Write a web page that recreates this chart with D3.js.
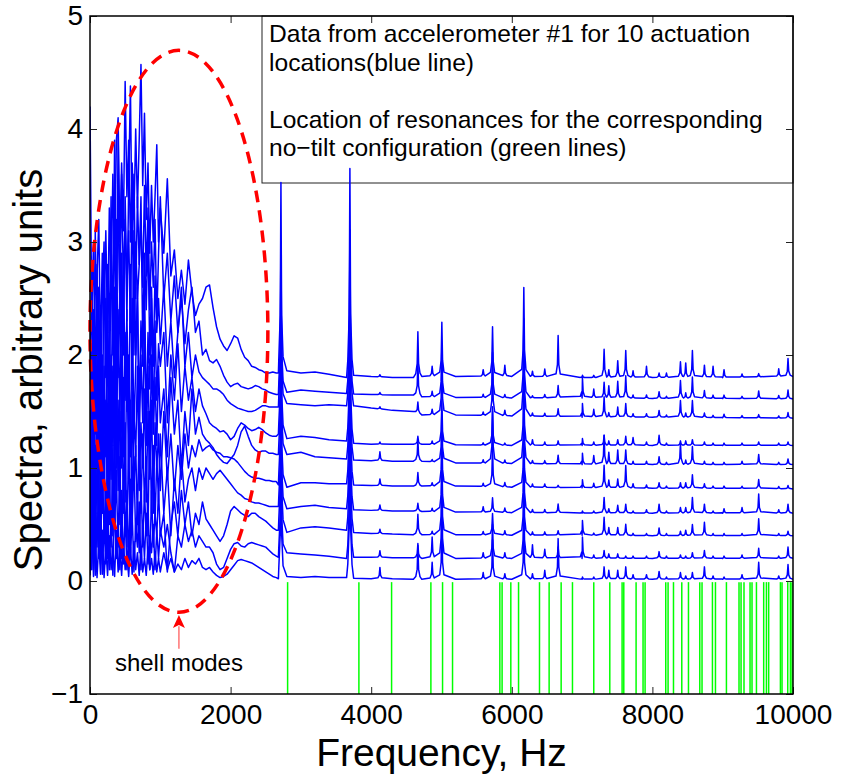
<!DOCTYPE html>
<html>
<head>
<meta charset="utf-8">
<script src="https://cdn.jsdelivr.net/npm/d3@7"></script>
<style>
	body { margin: 0; background: #fff; }
	text { font-family: "Liberation Sans", Arial, Helvetica, sans-serif; }
</style>
</head>
<body>
<svg id="chart" width="841" height="774"></svg>
<script>
(function(d3) {
	'use strict';

	/** axes */
	var xTicks = [0, 2000, 4000, 6000, 8000, 10000];
	var yTicks = [-1, 0, 1, 2, 3, 4, 5];

	/** low frequency part of the 10 spectra: 0..975 Hz every 25 Hz, then 1000..2650 Hz every 50 Hz */
	var lowFreqs = d3.range(0, 1000, 25).concat(d3.range(1000, 2700, 50));
	var lowSpectra = [
		[4.2, 2.3, 3.0, 1.8, 2.7, 3.2, 2.0, 2.9, 2.4, 3.1, 2.2, 3.3, 2.6, 3.6, 2.8, 3.9, 4.1, 3.0, 3.7, 3.1, 4.42, 3.4, 3.9, 3.0, 3.7, 3.2, 4.0, 3.3, 3.9, 4.57, 3.5, 4.14, 3.2, 3.7, 2.9, 3.5, 3.0, 3.4, 3.86, 3.0,
			3.3, 2.9, 3.56, 2.7, 2.93, 2.5, 2.75, 2.45, 2.84, 2.55, 2.35, 2.45, 2.5, 2.6, 2.62, 2.42, 2.25, 2.14, 2.08, 2.04, 2.1, 2.17, 2.15, 2.05, 1.98, 1.95, 1.9, 1.89, 1.87, 1.86, 1.84, 1.84, 1.85, 1.84],
		[1.2, 2.8, 1.5, 3.1, 2.0, 2.6, 1.4, 2.5, 3.0, 1.9, 2.8, 2.2, 3.4, 2.0, 3.9, 2.7, 3.3, 2.4, 3.6, 2.6, 3.2, 2.3, 3.5, 4.38, 2.9, 3.6, 2.5, 3.4, 2.8, 3.2, 2.6, 3.5, 2.7, 3.3, 2.4, 3.0, 2.6, 3.2, 2.3, 2.9,
			3.4, 2.5, 2.9, 2.3, 2.7, 2.2, 2.5, 2.1, 2.4, 2.6, 2.2, 2.3, 2.0, 2.05, 1.95, 1.93, 1.96, 1.9, 1.82, 1.76, 1.72, 1.74, 1.75, 1.72, 1.71, 1.7, 1.71, 1.73, 1.72, 1.7, 1.69, 1.67, 1.66, 1.65],
		[2.3, 0.9, 2.4, 1.3, 2.8, 1.6, 2.2, 1.1, 2.9, 1.8, 2.5, 1.4, 3.0, 2.1, 3.3, 1.9, 3.98, 2.4, 2.9, 2.0, 3.4, 2.6, 3.1, 2.2, 3.5, 2.0, 3.0, 2.5, 2.8, 3.4, 2.1, 2.9, 2.4, 3.1, 2.0, 2.6, 1.9, 2.7, 2.2, 2.5,
			2.1, 2.6, 1.9, 2.3, 1.8, 2.2, 2.6, 1.9, 2.2, 1.8, 2.0, 1.85, 1.8, 1.77, 1.74, 1.7, 1.7, 1.68, 1.65, 1.6, 1.57, 1.55, 1.53, 1.52, 1.51, 1.5, 1.5, 1.51, 1.53, 1.55, 1.55, 1.54, 1.54, 1.54],
		[0.8, 2.1, 0.7, 1.9, 1.1, 2.3, 0.9, 2.0, 1.3, 2.5, 1.0, 2.2, 1.5, 2.7, 1.2, 3.2, 1.8, 2.6, 1.4, 2.9, 1.6, 2.4, 1.3, 2.8, 1.7, 3.1, 2.0, 2.5, 1.5, 2.3, 1.9, 2.7, 1.4, 2.2, 1.7, 2.5, 1.3, 2.3, 1.6, 2.1,
			1.9, 2.2, 1.4, 2.0, 1.6, 2.1, 1.5, 1.9, 1.6, 1.8, 1.5, 1.7, 1.55, 1.48, 1.4, 1.37, 1.35, 1.32, 1.33, 1.3, 1.25, 1.28, 1.35, 1.4, 1.38, 1.35, 1.33, 1.34, 1.36, 1.34, 1.31, 1.29, 1.28, 1.28],
		[1.9, 0.5, 1.6, 0.7, 2.1, 0.9, 1.7, 0.6, 1.9, 1.1, 2.3, 0.8, 2.0, 1.2, 2.6, 1.0, 2.4, 1.4, 2.7, 1.1, 2.2, 1.5, 2.0, 1.1, 2.5, 1.3, 1.9, 2.6, 1.2, 2.0, 1.4, 2.3, 1.2, 1.9, 1.1, 2.0, 1.3, 1.8, 1.2, 1.9,
			1.4, 1.7, 1.1, 1.8, 1.3, 1.6, 1.0, 1.5, 1.2, 1.7, 1.3, 1.45, 1.3, 1.25, 1.22, 1.18, 1.12, 1.08, 1.05, 1.04, 1.08, 1.12, 1.2, 1.32, 1.37, 1.28, 1.2, 1.16, 1.14, 1.15, 1.15, 1.13, 1.13, 1.12],
		[0.5, 1.5, 0.3, 1.2, 0.6, 1.7, 0.4, 1.3, 0.8, 1.6, 0.5, 1.4, 0.9, 1.9, 0.7, 2.0, 0.8, 1.5, 1.0, 1.8, 0.7, 2.1, 0.9, 1.6, 0.6, 1.5, 1.1, 1.9, 0.8, 1.4, 1.0, 1.7, 0.7, 1.5, 0.9, 1.6, 0.6, 1.4, 1.0, 1.3,
			0.8, 1.5, 0.9, 1.3, 0.8, 1.2, 0.9, 1.3, 1.0, 1.2, 1.1, 1.25, 1.15, 1.18, 1.2, 1.16, 1.14, 1.13, 1.1, 1.1, 1.09, 1.08, 1.05, 1.01, 0.97, 0.94, 0.92, 0.91, 0.91, 0.9, 0.89, 0.89, 0.88, 0.88],
		[1.6, 0.2, 1.2, 0.4, 1.5, 0.3, 1.1, 0.6, 1.4, 0.2, 1.3, 0.5, 1.7, 0.4, 1.2, 0.7, 1.6, 0.5, 1.9, 0.6, 1.4, 0.3, 1.3, 0.25, 1.7, 0.8, 1.2, 0.5, 1.5, 0.6, 1.3, 0.7, 1.1, 0.4, 1.5, 0.6, 1.2, 0.5, 1.1, 0.7,
			1.3, 0.6, 1.0, 0.4, 0.9, 0.6, 1.1, 0.7, 0.9, 1.0, 0.8, 1.0, 0.9, 1.0, 0.95, 0.9, 0.95, 0.98, 0.94, 0.9, 0.86, 0.82, 0.78, 0.76, 0.73, 0.72, 0.7, 0.69, 0.69, 0.68, 0.67, 0.66, 0.66, 0.66],
		[0.3, 1.0, 0.1, 0.8, 0.3, 0.9, 0.15, 1.1, 0.4, 0.8, 0.2, 1.0, 0.3, 1.2, 0.5, 0.9, 0.3, 1.1, 0.2, 1.0, 0.4, 0.8, 0.15, 0.9, 0.5, 1.1, 0.35, 0.7, 0.25, 0.9, 0.3, 0.8, 0.4, 0.7, 0.1, 0.8, 0.3, 0.6, 0.4, 0.8,
			0.4, 0.6, 0.08, 0.5, 0.7, 0.4, 0.8, 0.5, 0.7, 0.4, 0.6, 0.5, 0.7, 0.55, 0.5, 0.45, 0.4, 0.35, 0.4, 0.5, 0.62, 0.66, 0.63, 0.6, 0.58, 0.57, 0.6, 0.6, 0.57, 0.55, 0.53, 0.5, 0.47, 0.45],
		[1.0, 0.1, 0.7, 0.05, 0.6, 0.2, 0.8, 0.06, 0.5, 0.15, 0.7, 0.1, 0.6, 0.05, 0.7, 0.2, 0.5, 0.1, 0.8, 0.15, 0.6, 0.1, 0.4, 0.2, 0.6, 0.08, 0.5, 0.3, 0.7, 0.1, 0.5, 0.2, 0.6, 0.15, 0.4, 0.25, 0.5, 0.1, 0.45, 0.2,
			0.45, 0.3, 0.5, 0.25, 0.08, 0.4, 0.3, 0.5, 0.35, 0.45, 0.3, 0.4, 0.35, 0.3, 0.3, 0.25, 0.15, 0.1, 0.12, 0.2, 0.28, 0.33, 0.34, 0.31, 0.3, 0.33, 0.34, 0.33, 0.32, 0.31, 0.3, 0.27, 0.24, 0.22],
		[0.05, 0.5, 0.04, 0.4, 0.03, 0.35, 0.06, 0.45, 0.03, 0.3, 0.05, 0.4, 0.1, 0.3, 0.04, 0.45, 0.08, 0.3, 0.05, 0.35, 0.1, 0.25, 0.04, 0.3, 0.06, 0.35, 0.1, 0.25, 0.05, 0.3, 0.08, 0.2, 0.05, 0.3, 0.1, 0.2, 0.06, 0.25, 0.08, 0.2,
			0.08, 0.25, 0.1, 0.2, 0.08, 0.15, 0.1, 0.2, 0.12, 0.18, 0.15, 0.2, 0.12, 0.1, 0.12, 0.08, 0.05, 0.03, 0.04, 0.06, 0.1, 0.14, 0.18, 0.19, 0.18, 0.17, 0.16, 0.14, 0.12, 0.1, 0.08, 0.06, 0.04, 0.03]
	];

	/** baseline levels above 2.7 kHz */
	var baseFreqs = [2680, 2800, 3000, 3200, 3400, 3650, 3750, 4000, 4300, 4600, 4720, 5200, 6000, 7000, 8000, 9000, 10000];
	var baseLevels = [
		[1.84, 1.86, 1.84, 1.85, 1.83, 1.8, 1.82, 1.81, 1.8, 1.8, 1.81, 1.81, 1.81, 1.8, 1.8, 1.8, 1.81],
		[1.65, 1.67, 1.69, 1.68, 1.67, 1.66, 1.655, 1.65, 1.645, 1.645, 1.63, 1.625, 1.62, 1.62, 1.615, 1.615, 1.61],
		[1.54, 1.57, 1.56, 1.55, 1.56, 1.55, 1.55, 1.53, 1.51, 1.5, 1.47, 1.47, 1.46, 1.45, 1.45, 1.445, 1.44],
		[1.3, 1.26, 1.28, 1.27, 1.25, 1.24, 1.22, 1.21, 1.21, 1.21, 1.21, 1.205, 1.2, 1.2, 1.2, 1.2, 1.2],
		[1.12, 1.12, 1.14, 1.1, 1.09, 1.08, 1.07, 1.065, 1.06, 1.06, 1.06, 1.045, 1.04, 1.03, 1.03, 1.03, 1.03],
		[0.85, 0.83, 0.87, 0.87, 0.86, 0.86, 0.85, 0.845, 0.84, 0.84, 0.84, 0.84, 0.83, 0.825, 0.82, 0.82, 0.815],
		[0.66, 0.64, 0.66, 0.67, 0.65, 0.64, 0.63, 0.625, 0.62, 0.62, 0.615, 0.61, 0.605, 0.6, 0.6, 0.6, 0.6],
		[0.45, 0.43, 0.47, 0.48, 0.47, 0.45, 0.43, 0.42, 0.415, 0.41, 0.41, 0.41, 0.405, 0.405, 0.4, 0.4, 0.4],
		[0.21, 0.25, 0.24, 0.23, 0.22, 0.2, 0.21, 0.21, 0.205, 0.205, 0.2, 0.2, 0.2, 0.2, 0.2, 0.2, 0.2],
		[0.02, 0.04, 0.03, 0.04, 0.03, 0.03, 0.025, 0.02, 0.02, 0.015, 0.015, 0.015, 0.015, 0.015, 0.015, 0.015, 0.015]
	];

	/** resonance peaks of the spectra, height above baseline */
	var peakFreqs = [2716, 3697, 4124, 4664, 4867, 5005, 5593, 5726, 5901, 6171, 6294, 6469, 6659, 7005, 7166, 7313, 7380,
		7507, 7621, 7725, 7916, 8095, 8200, 8399, 8474, 8569, 8740, 8863, 9019, 9275, 9512, 9797, 9929];
	var peakHeights = [
		[1.68, 1.84, 0.02, 0.40, 0.09, 0.48, 0.06, 0.44, 0.10, 0.79, 0.05, 0.07, 0.37, 0.02, 0.02, 0.25, 0.07, 0.15, 0.24, 0.06, 0.10, 0.04, 0.04, 0.14, 0.13, 0.24, 0.11, 0.10, 0.07, 0.03, 0.03, 0.07, 0.16],
		[1.35, 1.45, 0.02, 0.30, 0.05, 0.45, 0.03, 0.40, 0.03, 0.70, 0.02, 0.03, 0.11, 0.18, 0.08, 0.14, 0.11, 0.15, 0.20, 0.03, 0.03, 0.06, 0.02, 0.16, 0.05, 0.19, 0.07, 0.03, 0.03, 0.02, 0.07, 0.03, 0.08],
		[1.25, 1.40, 0.02, 0.10, 0.05, 0.50, 0.03, 0.45, 0.05, 0.80, 0.03, 0.03, 0.07, 0.12, 0.07, 0.18, 0.04, 0.09, 0.12, 0.03, 0.03, 0.06, 0.02, 0.15, 0.04, 0.15, 0.04, 0.02, 0.03, 0.02, 0.03, 0.02, 0.05],
		[1.30, 1.50, 0.02, 0.07, 0.03, 0.40, 0.02, 0.30, 0.02, 0.60, 0.05, 0.03, 0.04, 0.06, 0.03, 0.09, 0.04, 0.05, 0.08, 0.07, 0.03, 0.09, 0.02, 0.04, 0.04, 0.05, 0.03, 0.02, 0.02, 0.02, 0.03, 0.02, 0.03],
		[1.20, 1.45, 0.08, 0.19, 0.02, 0.45, 0.03, 0.50, 0.03, 0.70, 0.03, 0.03, 0.08, 0.10, 0.08, 0.26, 0.11, 0.13, 0.13, 0.03, 0.03, 0.07, 0.02, 0.19, 0.04, 0.16, 0.03, 0.02, 0.02, 0.03, 0.09, 0.02, 0.05],
		[1.30, 1.50, 0.06, 0.12, 0.03, 0.50, 0.03, 0.35, 0.04, 0.55, 0.03, 0.03, 0.02, 0.07, 0.04, 0.20, 0.07, 0.08, 0.20, 0.04, 0.03, 0.05, 0.02, 0.05, 0.05, 0.12, 0.04, 0.02, 0.02, 0.02, 0.08, 0.02, 0.03],
		[1.20, 1.45, 0.05, 0.07, 0.03, 0.50, 0.05, 0.13, 0.04, 0.60, 0.03, 0.03, 0.08, 0.02, 0.02, 0.14, 0.04, 0.07, 0.08, 0.02, 0.03, 0.08, 0.02, 0.05, 0.05, 0.14, 0.08, 0.02, 0.04, 0.05, 0.17, 0.03, 0.08],
		[1.30, 1.50, 0.04, 0.18, 0.03, 0.55, 0.03, 0.19, 0.04, 0.55, 0.03, 0.03, 0.04, 0.13, 0.02, 0.16, 0.07, 0.07, 0.10, 0.02, 0.02, 0.07, 0.02, 0.04, 0.05, 0.10, 0.12, 0.02, 0.02, 0.02, 0.15, 0.02, 0.04],
		[1.20, 1.45, 0.06, 0.13, 0.19, 0.60, 0.05, 0.30, 0.05, 0.55, 0.12, 0.08, 0.10, 0.19, 0.03, 0.07, 0.04, 0.04, 0.02, 0.02, 0.02, 0.06, 0.02, 0.03, 0.02, 0.05, 0.07, 0.02, 0.02, 0.03, 0.09, 0.02, 0.10],
		[1.30, 1.50, 0.10, 0.30, 0.15, 0.50, 0.06, 0.35, 0.05, 0.50, 0.05, 0.08, 0.36, 0.02, 0.02, 0.11, 0.08, 0.08, 0.11, 0.04, 0.04, 0.07, 0.02, 0.06, 0.03, 0.06, 0.11, 0.03, 0.02, 0.04, 0.15, 0.03, 0.13]
	];

	/** resonances of the no-tilt configuration (green lines) */
	var greenFreqs = [2811, 3825, 4290, 4849, 5015, 5157, 5830, 5862, 5986, 6096, 6394, 6531, 6702, 6863, 7166, 7394, 7569,
		7593, 7768, 7867, 7896, 8190, 8223, 8300, 8418, 8513, 8674, 8706, 8854, 8897, 9053, 9232, 9261, 9303, 9389, 9417,
		9480, 9583, 9622, 9654, 9821, 9844, 9925, 9963, 9986];

	var legendLines = ['Data from accelerometer #1 for 10 actuation', 'locations(blue line)', '',
		'Location of resonances for the corresponding', 'no\u2212tilt configuration (green lines)'];

	var svg = d3.select('#chart');
	var x = d3.scaleLinear().domain([0, 10000]).range([90, 793]);
	var y = d3.scaleLinear().domain([-1, 5]).range([694, 16]);

	svg.append('defs').append('clipPath').attr('id', 'plot-clip')
		.append('rect').attr('x', x(0)).attr('y', y(5)).attr('width', x(10000) - x(0)).attr('height', y(-1) - y(5));

	/** legend box (under the lines) */
	var legend = svg.append('g').attr('class', 'legend');
	legend.append('rect').attr('x', 262).attr('y', y(5)).attr('width', x(10000) - 262).attr('height', 183 - y(5))
		.attr('fill', '#fff').attr('stroke', '#222').attr('stroke-width', 1);

	/** spectra */
	var peakShape = [[-30, 0.08], [-10, 0.3], [0, 1], [10, 0.3], [30, 0.08]];
	var buildSpectrum = function(i) {
		var pts = lowFreqs.map(function(f, k) { return [f, lowSpectra[i][k]]; });
		var base = d3.scaleLinear().domain(baseFreqs).range(baseLevels[i]);
		var high = baseFreqs.map(function(f) { return [f, base(f)]; });
		peakFreqs.forEach(function(pf, k) {
			peakShape.forEach(function(s) {
				high.push([pf + s[0], base(pf + s[0]) + peakHeights[i][k] * s[1]]);
			});
		});
		high.sort(function(a, b) { return a[0] - b[0]; });
		return pts.concat(high);
	};
	var line = d3.line().x(function(d) { return x(d[0]); }).y(function(d) { return y(d[1]); });
	svg.append('g').attr('clip-path', 'url(#plot-clip)').selectAll('path').data(d3.range(lowSpectra.length)).enter()
		.append('path').attr('d', function(i) { return line(buildSpectrum(i)); })
		.attr('fill', 'none').attr('stroke', '#0000ff').attr('stroke-width', 1.5).attr('stroke-linejoin', 'round');

	/** green resonance lines */
	svg.append('g').selectAll('line').data(greenFreqs).enter().append('line')
		.attr('x1', function(f) { return x(f); }).attr('x2', function(f) { return x(f); })
		.attr('y1', y(-0.01)).attr('y2', y(-1))
		.attr('stroke', '#00ff00').attr('stroke-width', 1.5);

	/** shell modes annotation */
	svg.append('ellipse').attr('cx', x(1265)).attr('cy', y(2.21))
		.attr('rx', x(2530) - x(1265)).attr('ry', y(2.21) - y(4.696))
		.attr('fill', 'none').attr('stroke', '#ff0000').attr('stroke-width', 3.5).attr('stroke-dasharray', '12,8');
	svg.append('line').attr('x1', x(1265)).attr('x2', x(1265)).attr('y1', y(-0.6)).attr('y2', y(-0.4))
		.attr('stroke', '#ff5050').attr('stroke-width', 1.2);
	svg.append('path').attr('d', 'M' + x(1265) + ',' + y(-0.3) + 'l-6,13l6,-3l6,3z').attr('fill', '#ff0000');
	svg.append('text').attr('x', x(1265)).attr('y', y(-0.8)).attr('text-anchor', 'middle')
		.attr('font-size', 24).attr('fill', '#000').text('shell modes');

	/** legend text */
	legend.append('text').attr('x', 269).attr('y', 42).attr('font-size', 24.6).attr('fill', '#000')
		.selectAll('tspan').data(legendLines).enter().append('tspan')
		.attr('x', 269).attr('dy', function(d, i) { return i === 0 ? 0 : 28.6; })
		.text(function(d) { return d === '' ? '\u00a0' : d; });

	/** axes */
	var styleAxis = function(g) {
		g.select('.domain').remove();
		g.selectAll('.tick line').attr('stroke', '#222');
		g.selectAll('.tick text').attr('font-size', 28).attr('fill', '#000')
			.attr('font-family', '"Liberation Sans", Arial, Helvetica, sans-serif');
	};
	svg.append('g').attr('transform', 'translate(0,' + y(-1) + ')')
		.call(d3.axisBottom(x).tickValues(xTicks).tickSize(-7).tickPadding(10.5).tickFormat(d3.format('d'))).call(styleAxis);
	svg.append('g').attr('transform', 'translate(0,' + y(5) + ')')
		.call(d3.axisTop(x).tickValues(xTicks).tickSize(-7).tickFormat('')).call(styleAxis);
	svg.append('g').attr('transform', 'translate(' + x(0) + ',0)')
		.call(d3.axisLeft(y).tickValues(yTicks).tickSize(-7).tickPadding(7).tickFormat(d3.format('d'))).call(styleAxis);
	svg.append('g').attr('transform', 'translate(' + x(10000) + ',0)')
		.call(d3.axisRight(y).tickValues(yTicks).tickSize(-7).tickFormat('')).call(styleAxis);

	svg.append('rect').attr('x', x(0)).attr('y', y(5)).attr('width', x(10000) - x(0)).attr('height', y(-1) - y(5))
		.attr('fill', 'none').attr('stroke', '#000').attr('stroke-width', 1.5);

	/** axis titles */
	svg.append('text').attr('x', (x(0) + x(10000)) / 2).attr('y', 766).attr('text-anchor', 'middle')
		.attr('font-size', 39).attr('fill', '#000').text('Frequency, Hz');
	svg.append('text').attr('transform', 'translate(42,370) rotate(-90)').attr('text-anchor', 'middle')
		.attr('font-size', 40).attr('fill', '#000').text('Spectra, arbitrary units');
})(d3);
</script>
</body>
</html>
